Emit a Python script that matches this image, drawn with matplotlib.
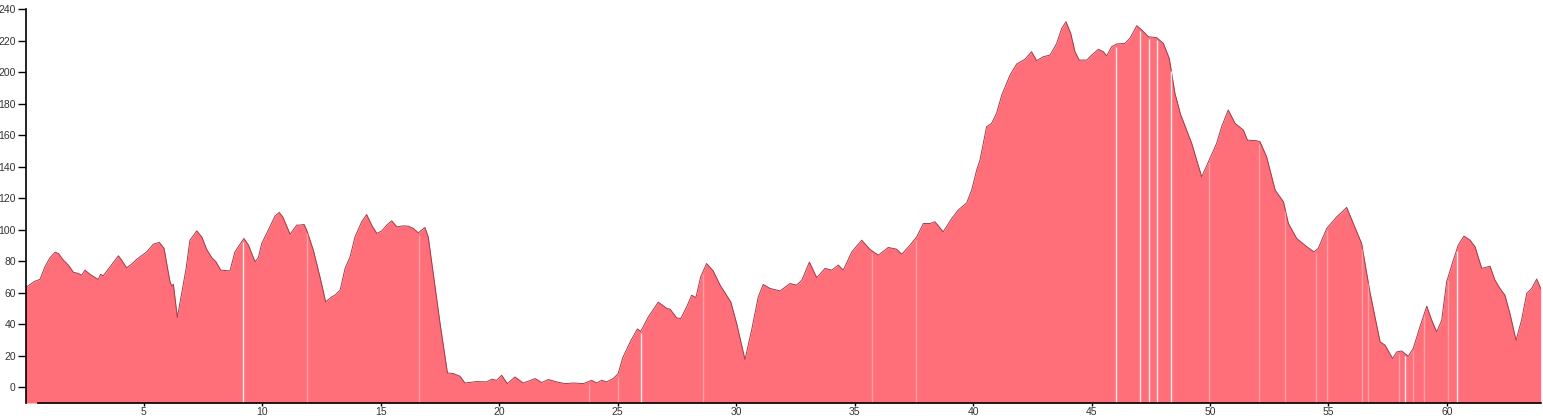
import matplotlib
matplotlib.use("Agg")
import matplotlib.pyplot as plt
import numpy as np

# elevation profile (distance km, elevation m)
km = [
    0.00, 0.05, 0.19, 0.40, 0.61, 0.82, 1.03, 1.25, 1.39, 1.60, 1.81, 2.02, 2.23, 2.37, 2.51,
    2.72, 3.07, 3.17, 3.28, 3.57, 3.92, 4.06, 4.27, 4.48, 4.69, 4.83, 5.12, 5.40, 5.65, 5.85,
    5.96, 6.10, 6.18, 6.24, 6.41, 6.59, 6.78, 6.94, 7.23, 7.44, 7.65, 7.86, 8.04, 8.24, 8.63,
    8.84, 9.22, 9.41, 9.69, 9.83, 9.97, 10.25, 10.53, 10.71, 10.86, 11.17, 11.45, 11.59, 11.76,
    11.87, 12.15, 12.43, 12.67, 12.92, 13.06, 13.28, 13.49, 13.70, 13.91, 14.19, 14.40, 14.61,
    14.83, 15.04, 15.25, 15.46, 15.67, 15.95, 16.16, 16.37, 16.58, 16.86, 17.00, 17.21, 17.50,
    17.81, 18.06, 18.34, 18.55, 19.05, 19.47, 19.68, 19.89, 20.10, 20.34, 20.66, 21.01, 21.22,
    21.51, 21.79, 22.07, 22.42, 22.77, 23.12, 23.55, 23.90, 24.11, 24.32, 24.53, 24.81, 25.02,
    25.21, 25.55, 25.83, 25.97, 26.29, 26.71, 27.07, 27.21, 27.49, 27.66, 27.91, 28.12, 28.30,
    28.50, 28.75, 29.03, 29.32, 29.77, 30.02, 30.37, 30.65, 30.93, 31.14, 31.43, 31.85, 32.27,
    32.55, 32.77, 33.09, 33.40, 33.75, 34.03, 34.31, 34.52, 34.88, 35.30, 35.65, 36.00, 36.42,
    36.77, 36.99, 37.34, 37.62, 37.90, 38.18, 38.39, 38.74, 39.10, 39.37, 39.73, 39.94, 40.15,
    40.29, 40.57, 40.78, 40.99, 41.21, 41.56, 41.84, 42.19, 42.47, 42.68, 42.96, 43.25, 43.53,
    43.74, 43.92, 44.12, 44.30, 44.48, 44.80, 45.01, 45.29, 45.50, 45.64, 45.85, 46.06, 46.41,
    46.62, 46.91, 47.12, 47.40, 47.75, 48.03, 48.28, 48.52, 48.76, 49.23, 49.65, 50.00, 50.28,
    50.49, 50.77, 51.06, 51.41, 51.58, 51.97, 52.11, 52.39, 52.75, 53.10, 53.31, 53.66, 54.09,
    54.39, 54.57, 54.93, 55.35, 55.77, 56.05, 56.40, 56.75, 57.18, 57.39, 57.71, 57.88, 58.09,
    58.37, 58.58, 58.86, 59.15, 59.36, 59.57, 59.78, 59.99, 60.27, 60.48, 60.72, 60.98, 61.19,
    61.47, 61.82, 62.03, 62.24, 62.45, 62.66, 62.92, 63.15, 63.37, 63.58, 63.79, 63.96,
]
elev = [
    63.0, 63.7, 65.2, 67.3, 68.4, 76.4, 82.1, 85.7, 84.9, 80.6, 77.5, 73.0, 72.2, 71.1, 74.3,
    71.7, 68.4, 71.7, 70.7, 76.4, 83.4, 80.6, 75.8, 78.1, 81.1, 82.7, 85.9, 90.8, 91.9, 88.1,
    78.5, 66.9, 64.1, 65.4, 44.3, 59.5, 75.4, 93.3, 99.2, 95.4, 87.4, 82.3, 79.6, 74.3, 73.8,
    85.9, 94.4, 90.2, 79.6, 82.3, 91.2, 99.7, 108.6, 110.9, 108.1, 97.1, 102.9, 102.9, 103.3,
    99.7, 87.0, 70.0, 54.2, 57.3, 58.4, 61.6, 75.4, 82.7, 95.4, 105.0, 109.6, 102.9,
    97.6, 99.2, 102.9, 105.6, 101.8, 102.4, 102.2, 100.8, 98.0, 101.4, 95.4, 72.2, 40.4,
    9.1, 8.7, 7.0, 2.7, 3.6, 3.4, 5.1, 4.4, 7.6, 2.3, 6.5, 2.7, 3.8,
    5.5, 3.0, 4.9, 3.4, 2.3, 2.7, 2.3, 4.4, 2.7, 4.4, 3.4, 5.5, 8.7,
    18.7, 29.5, 37.0, 35.4, 44.6, 54.0, 50.0, 49.5, 44.0, 43.6, 51.0, 58.4, 56.9,
    70.0, 78.5, 73.8, 64.8, 54.2, 40.4, 17.6, 36.2, 57.3, 65.2, 62.7, 61.1, 65.8,
    64.8, 67.9, 79.4, 69.5, 75.4, 74.3, 77.5, 74.3, 85.9, 93.3, 87.4, 83.8, 88.7,
    87.6, 84.4, 90.2, 95.4, 103.9, 103.9, 105.0, 98.6, 107.1, 112.4, 117.0, 125.1, 137.8,
    144.1, 165.3, 167.4, 173.8, 185.4, 198.1, 205.1, 208.1, 212.9, 207.2, 209.7, 210.8, 218.2,
    227.7, 231.9, 224.6, 212.9, 207.6, 207.6, 210.8, 214.4, 212.9, 210.2, 216.1, 217.8, 218.2,
    221.4, 229.4, 226.7, 222.4, 221.8, 218.2, 208.7, 186.5, 173.0, 154.7, 133.5, 145.2, 154.7,
    165.3, 175.9, 167.4, 163.2, 156.8, 156.4, 155.8, 146.2, 125.1, 117.7, 103.9, 94.4, 89.1,
    85.9, 88.1, 100.8, 108.1, 114.1, 103.9, 91.2, 60.5, 28.8, 26.7, 18.2, 22.4, 23.0,
    19.7, 24.6, 38.3, 51.4, 42.5, 35.1, 42.5, 66.9, 80.6, 90.2, 95.9, 93.3, 89.1,
    75.4, 76.8, 67.9, 62.7, 58.4, 46.8, 29.8, 42.5, 59.5, 62.7, 68.6, 62.7,
]

# segment joins that show up as light seams in the fill
seams_strong = [9.18, 25.98, 46.03, 47.05, 47.42, 47.76, 48.35, 58.23, 60.43]
seams_faint = [11.88, 16.61, 23.78, 25.01, 28.60, 35.73, 37.59, 49.96, 52.07, 53.17,
               54.47, 54.94, 56.42, 56.67, 57.98, 58.57, 59.04, 60.05]

y_ticks = list(range(0, 241, 20))
x_ticks = list(range(5, 61, 5))

fig = plt.figure(figsize=(15.43, 4.20), dpi=100)
ax = fig.add_axes([25.5 / 1543, 17 / 420, 1515.2 / 1543, 394 / 420])

y_floor = -10
ax.fill_between(km, elev, y_floor, color="#ff6f79", linewidth=0)
ax.plot(km, elev, color="#a23b48", linewidth=0.7)

km_arr = np.array(km)
elev_arr = np.array(elev)
for seams, alpha in ((seams_strong, 0.85), (seams_faint, 0.35)):
    tops = np.interp(seams, km_arr, elev_arr)
    ax.vlines(seams, y_floor, tops - 1.5, color="white", linewidth=1.0, alpha=alpha)

ax.set_xlim(0, km[-1])
ax.set_ylim(y_floor, 240)
ax.set_yticks(y_ticks)
ax.set_xticks(x_ticks)

for side in ("top", "right"):
    ax.spines[side].set_visible(False)
ax.spines["left"].set_linewidth(1.2)
ax.spines["bottom"].set_linewidth(1.2)
ax.spines["bottom"].set_bounds(0.53, km[-1])

ax.tick_params(axis="y", length=6, width=1, pad=1, labelsize=7.5, labelcolor="#333333")
ax.tick_params(axis="x", length=2, width=1, pad=1, labelsize=7.5, labelcolor="#333333")
for lab in ax.get_xticklabels() + ax.get_yticklabels():
    lab.set_fontfamily("Liberation Sans")

fig.savefig("out.png", dpi=100)
plt.close(fig)
